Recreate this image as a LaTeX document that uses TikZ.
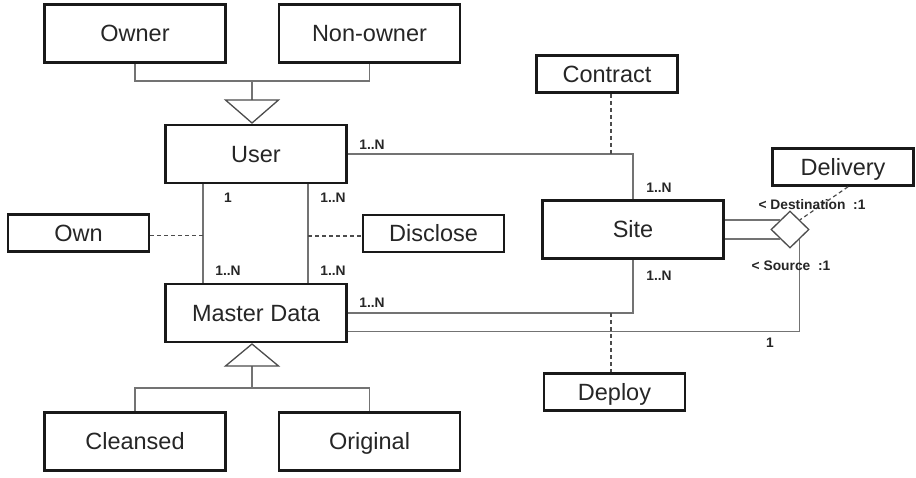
\documentclass[tikz,border=0pt]{standalone}
\usepackage{fontspec}
\setmainfont{Liberation Sans}
\usetikzlibrary{shapes.geometric,calc}
\begin{document}
\begin{tikzpicture}[x=1pt,y=-1pt,
 ent/.style={draw=black!90,line width=2.6pt,fill=white,inner sep=0pt,text height=16.8pt,text depth=0pt,font=\fontsize{23.5}{28}\selectfont,text=black!85},
 big/.style={minimum width=181pt,minimum height=58pt},
 small/.style={minimum width=141pt,minimum height=37pt},
 conn/.style={draw=black!55,line width=1.3pt},
 dsh/.style={draw=black!70,line width=1.2pt,dash pattern=on 4pt off 3pt},
 card/.style={font=\bfseries\fontsize{13.8}{16}\selectfont,text=black!85,inner sep=0pt},
 tri/.style={draw=black!70,line width=1.3pt,fill=white,line join=miter}]
\useasboundingbox[fill=white] (0,0) rectangle (916,477);

% entity boxes
\node[ent,big] (owner) at (135,33.5) {Owner};
\node[ent,big] (nonowner) at (369.5,33.5) {Non-owner};
\node[ent,big] (user) at (256,154) {User};
\node[ent,big] (master) at (256,313) {Master Data};
\node[ent,big] (cleansed) at (135,441.5) {Cleansed};
\node[ent,big] (original) at (369.5,441.5) {Original};
\node[ent,big] (site) at (633,229.5) {Site};
\node[ent,small] (own) at (78.5,233) {Own};
\node[ent,small] (disclose) at (433.5,233.5) {Disclose};
\node[ent,small] (contract) at (607,74) {Contract};
\node[ent,small] (delivery) at (843,167) {Delivery};
\node[ent,small] (deploy) at (614.5,392) {Deploy};
\node[draw=black!70,line width=1.3pt,diamond,minimum width=38pt,minimum height=37pt,inner sep=0pt,fill=white] (dia) at (790,229.5) {};

% generalisation of User
\coordinate (tj) at (252,81);
\coordinate (ta) at (252,123);
\draw[conn] (owner.south) |- (tj) -| (nonowner.south);
\draw[conn] (tj) -- (252,100);
\draw[tri] (ta) -- ++(-26.5,-23) -- ++(53,0) -- cycle;

% generalisation of Master Data
\coordinate (bj) at (252,388);
\coordinate (ba) at (252,344);
\draw[conn] (cleansed.north) |- (bj) -| (original.north);
\draw[conn] (bj) -- (252,366);
\draw[tri] (ba) -- ++(-26.5,22) -- ++(53,0) -- cycle;

% User -- Master Data
\coordinate (lv) at (203,0);
\coordinate (rv) at (308,0);
\draw[conn] (user.south -| lv) -- (master.north -| lv);
\draw[conn] (user.south -| rv) -- (master.north -| rv);
\draw[dsh] (own.east |- 0,235.5) -- (lv |- 0,235.5);
\draw[dsh] (rv |- 0,236) -- (disclose.west |- 0,236);

% User -- Site, Master Data -- Site
\draw[conn] (user.east) -| (site.north);
\draw[conn] (master.east) -| (site.south);
\coordinate (dx) at (611,0);
\draw[dsh] (contract.south -| dx) -- (dx |- user.east);
\draw[dsh] (dx |- master.east) -- (deploy.north -| dx);

% Delivery relationship
\coordinate (dnw) at ($(dia.west)!0.5!(dia.north)$);
\coordinate (dsw) at ($(dia.west)!0.5!(dia.south)$);
\coordinate (dse) at ($(dia.east)!0.5!(dia.south)$);
\coordinate (dne) at ($(dia.north)!0.5!(dia.east)$);
\draw[conn] (site.east |- dnw) -- (dnw);
\draw[conn] (site.east |- dsw) -- (dsw);
\draw[conn] ($(master.east)+(0,18.5)$) -| (dse);
\draw[dsh] ($(delivery.south)+(5,0)$) -- (dne);

% cardinalities
\node[card] (c1) at (372,145) {1..N};
\node[card] (c2) at (228,198) {1};
\node[card] (c3) at (333,198) {1..N};
\node[card] (c4) at (228,271) {1..N};
\node[card] (c5) at (333,271) {1..N};
\node[card] (c6) at (372,303) {1..N};
\node[card] (c7) at (659,188) {1..N};
\node[card] (c8) at (659,276) {1..N};
\node[card] (c9) at (812,205) {< Destination~~:1};
\node[card] (c10) at (791,266) {< Source~~:1};
\node[card] (c11) at (770,343) {1};
\end{tikzpicture}
\end{document}
